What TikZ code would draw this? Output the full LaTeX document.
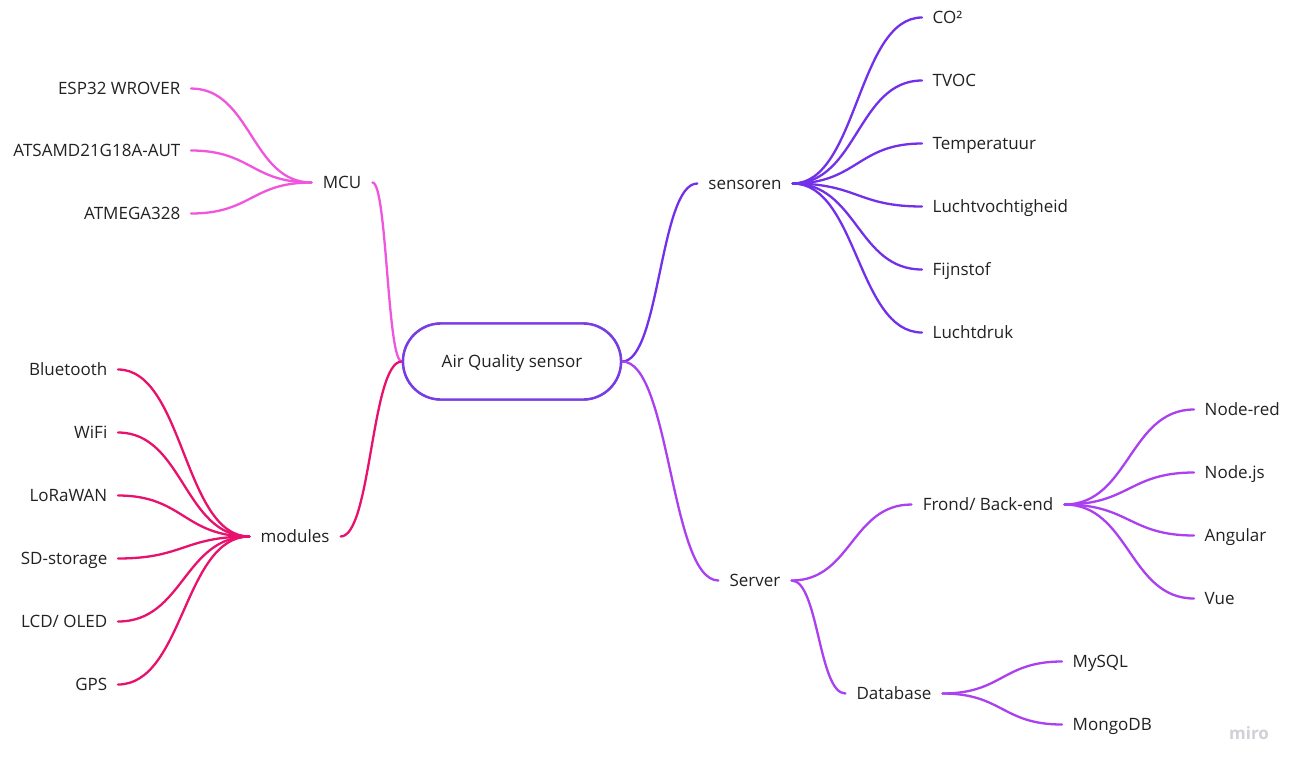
\documentclass[tikz,border=0pt]{standalone}
\usepackage{fontspec}
\setmainfont{Open Sans}
\usetikzlibrary{calc}
\definecolor{txt}{HTML}{222222}
\definecolor{mcuC}{RGB}{240,85,222}
\definecolor{modC}{RGB}{232,18,110}
\definecolor{senC}{RGB}{114,48,234}
\definecolor{srvC}{RGB}{170,64,240}
\definecolor{ctrC}{RGB}{120,60,228}
\definecolor{logoC}{RGB}{208,208,216}
\newcommand\mmlink[3]{\draw[link,#1] let \p1=(#2), \p2=(#3), \n1={(\x1+\x2)/2} in (\p1) .. controls (\n1,\y1) and (\n1,\y2) .. (\p2);}
\begin{document}
\begin{tikzpicture}[x=1pt,y=-1pt,
  lbl/.style={font=\fontsize{17}{20}\selectfont, text=txt, text height=12.1pt, text depth=0pt, inner ysep=0pt, inner xsep=10.5pt},
  link/.style={line width=2.3pt, line cap=round},
  ctr/.style={draw=ctrC, line width=2.4pt, fill=white, minimum width=218pt, minimum height=76pt, rounded corners=38pt, font=\fontsize{17}{20}\selectfont, text=txt, text height=12.1pt, text depth=0pt}]
\useasboundingbox (0,0) rectangle (1300,769);
\fill[white] (0,0) rectangle (1300,769);

% center
\node[ctr] (c) at (512,361.5) {Air Quality sensor};

% level 1
\node[lbl,inner xsep=11pt] (mcu) at (342,182.5) {MCU};
\node[lbl,inner xsep=11pt] (mod) at (295,536.5) {modules};
\node[lbl,inner xsep=11pt] (sen) at (745,183.5) {sensoren};
\node[lbl,inner xsep=11pt] (srv) at (755,580.5) {Server};

% MCU children
\node[lbl,anchor=east] (esp) at (191,88.5) {ESP32 WROVER};
\node[lbl,anchor=east] (sam) at (191,150.5) {ATSAMD21G18A-AUT};
\node[lbl,anchor=east] (atm) at (191,213.5) {ATMEGA328};

% modules children
\node[lbl,anchor=east] (bt) at (118,369.5) {Bluetooth};
\node[lbl,anchor=east] (wifi) at (118,432.5) {WiFi};
\node[lbl,anchor=east] (lora) at (118,495.5) {LoRaWAN};
\node[lbl,anchor=east] (sd) at (118,558.5) {SD-storage};
\node[lbl,anchor=east] (lcd) at (118,621.5) {LCD/ OLED};
\node[lbl,anchor=east] (gps) at (118,684.5) {GPS};

% sensor children
\node[lbl,anchor=west] (co) at (922,17.5) {CO²};
\node[lbl,anchor=west] (tvoc) at (922,80.5) {TVOC};
\node[lbl,anchor=west] (temp) at (922,143.5) {Temperatuur};
\node[lbl,anchor=west] (hum) at (922,206.5) {Luchtvochtigheid};
\node[lbl,anchor=west] (fijn) at (922,269.5) {Fijnstof};
\node[lbl,anchor=west] (druk) at (922,332.5) {Luchtdruk};

% server children
\node[lbl,inner xsep=11pt] (fb) at (988,504.5) {Frond/ Back-end};
\node[lbl,inner xsep=11pt] (db) at (894,693.5) {Database};
\node[lbl,anchor=west] (nred) at (1194,409.5) {Node-red};
\node[lbl,anchor=west] (njs) at (1194,472.5) {Node.js};
\node[lbl,anchor=west] (ang) at (1194,535.5) {Angular};
\node[lbl,anchor=west] (vue) at (1194,598.5) {Vue};
\node[lbl,anchor=west] (mysql) at (1062,661.5) {MySQL};
\node[lbl,anchor=west] (mongo) at (1062,724.5) {MongoDB};

% links
\mmlink{mcuC}{mcu.east}{c.west}
\mmlink{modC}{mod.east}{c.west}
\mmlink{senC}{c.east}{sen.west}
\mmlink{srvC}{c.east}{srv.west}

\mmlink{mcuC}{esp.east}{mcu.west}
\mmlink{mcuC}{sam.east}{mcu.west}
\mmlink{mcuC}{atm.east}{mcu.west}

\foreach \k in {bt,wifi,lora,sd,lcd,gps}{\mmlink{modC}{\k.east}{mod.west}}
\foreach \k in {co,tvoc,temp,hum,fijn,druk}{\mmlink{senC}{sen.east}{\k.west}}

\mmlink{srvC}{srv.east}{fb.west}
\mmlink{srvC}{srv.east}{db.west}
\foreach \k in {nred,njs,ang,vue}{\mmlink{srvC}{fb.east}{\k.west}}
\foreach \k in {mysql,mongo}{\mmlink{srvC}{db.east}{\k.west}}

% redraw center on top
\node[ctr] at (512,361.5) {Air Quality sensor};

\node[font=\bfseries\fontsize{17}{20}\selectfont, text=logoC, inner sep=0pt] (logo) at (1249,733) {miro};
\end{tikzpicture}
\end{document}
